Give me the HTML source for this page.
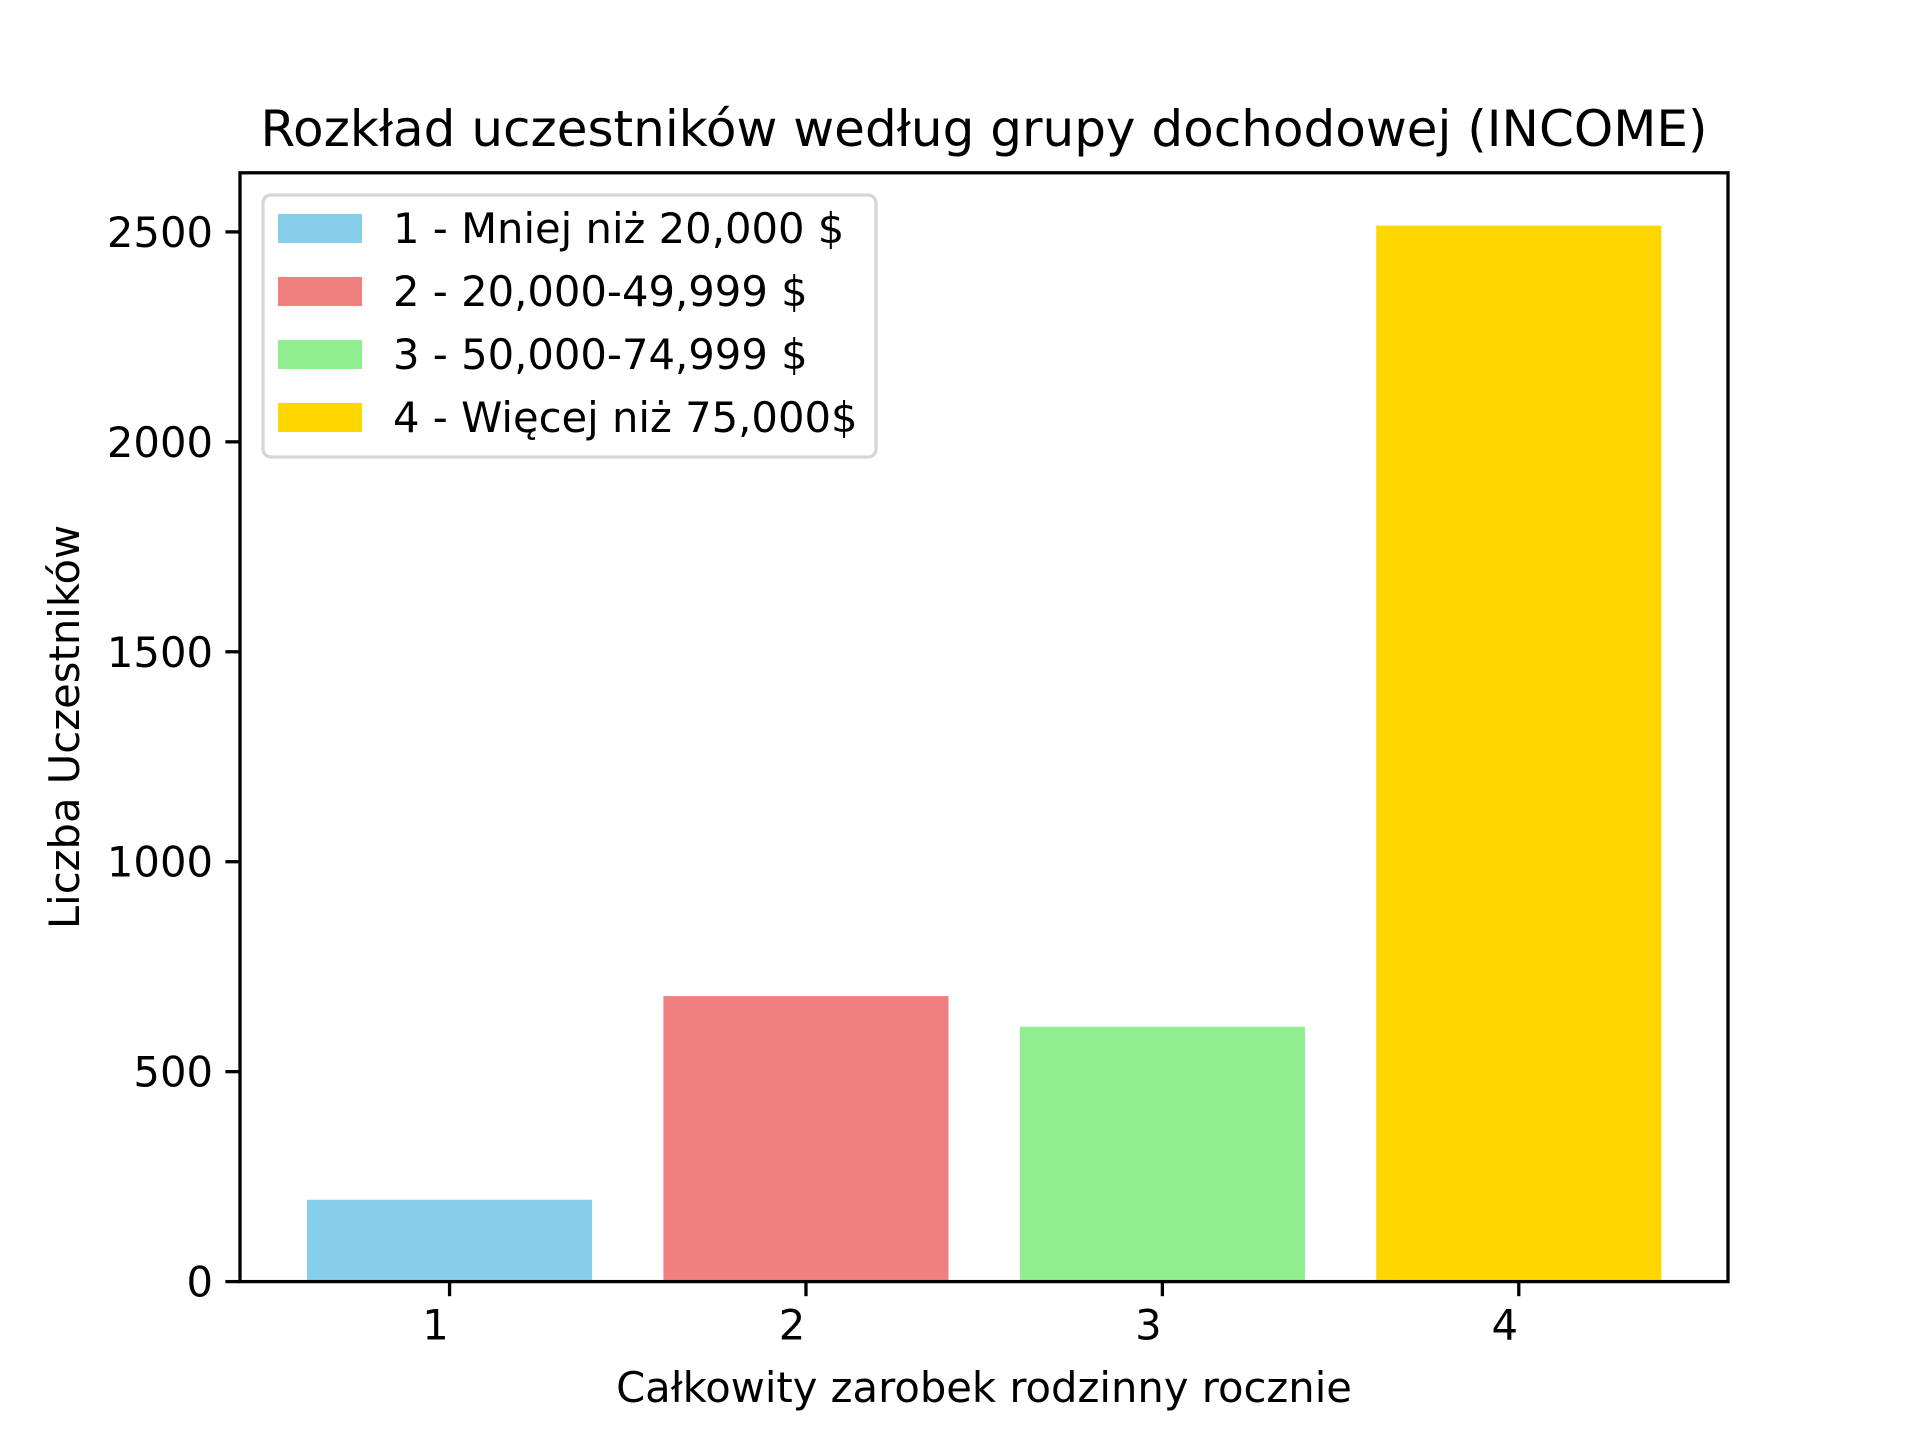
<!DOCTYPE html>
<html><head><meta charset="utf-8"><style>
body{margin:0;background:#fff}
svg text{font-family:"DejaVu Sans","Liberation Sans",sans-serif;fill:#000}
</style></head><body>
<svg id="chart" width="1920" height="1440" xmlns="http://www.w3.org/2000/svg">
<rect width="1920" height="1440" fill="#fff"/>
<text x="984" y="146" font-size="50" text-anchor="middle">Rozkład uczestników według grupy dochodowej (INCOME)</text>
<g id="bars"></g>
<g id="axes"></g>
<text x="984" y="1402" font-size="41.7" text-anchor="middle">Całkowity zarobek rodzinny rocznie</text>
<text transform="translate(79,727) rotate(-90)" font-size="41.7" text-anchor="middle">Liczba Uczestników</text>
<g id="legend"></g>
</svg>
<script>
const categories = [1, 2, 3, 4];
const values = [195, 680, 607, 2515];
const colors = ['#87ceeb', '#f08080', '#90ee90', '#ffd700'];
const labels = ['1 - Mniej niż 20,000 $', '2 - 20,000-49,999 $', '3 - 50,000-74,999 $', '4 - Więcej niż 75,000$'];
const yTicks = [0, 500, 1000, 1500, 2000, 2500];

const NS = 'http://www.w3.org/2000/svg';
const L = 240, R = 1728, T = 172.8, B = 1281.6;
const yMax = Math.max(...values) * 1.05;
const xMin = 0.412, xMax = 4.587;
const xs = v => L + (v - xMin) / (xMax - xMin) * (R - L);
const ys = v => B - v / yMax * (B - T);
function mk(tag, attrs, parent) {
  const e = document.createElementNS(NS, tag);
  for (const k in attrs) e.setAttribute(k, attrs[k]);
  parent.appendChild(e);
  return e;
}
const barsG = document.getElementById('bars');
categories.forEach((c, i) => {
  const r = mk('rect', {x: xs(c - 0.4), y: ys(values[i]), width: xs(c + 0.4) - xs(c - 0.4), height: B - ys(values[i]), fill: colors[i]}, barsG);
  
  
});
const ax = document.getElementById('axes');
const frame = mk('rect', {x: L, y: T, width: R - L, height: B - T, fill: 'none', stroke: '#000', 'stroke-width': 3.3}, ax);


yTicks.forEach(t => {
  const y = ys(t);
  const tk = mk('line', {x1: L - 14.6, x2: L, y1: y, y2: y, stroke: '#000', 'stroke-width': 3.3}, ax);
  
  
  const tx = mk('text', {x: L - 27, y: y + 15, 'font-size': 41.7, 'text-anchor': 'end'}, ax);
  tx.textContent = t;
  
  
});
categories.forEach(c => {
  const x = xs(c);
  const tk = mk('line', {x1: x, x2: x, y1: B, y2: B + 14.6, stroke: '#000', 'stroke-width': 3.3}, ax);
  
  
  const tx = mk('text', {x: x - 14, y: B + 58, 'font-size': 41.7, 'text-anchor': 'middle'}, ax);
  tx.textContent = c;
  
  
});
const lg = document.getElementById('legend');
const box = mk('rect', {x: 263, y: 195, width: 613, height: 262, rx: 8, fill: '#fff', 'fill-opacity': 0.8, stroke: '#d5d5d5', 'stroke-width': 3.3}, lg);


labels.forEach((lab, i) => {
  const y0 = 214 + i * 63;
  const sw = mk('rect', {x: 278, y: y0, width: 84, height: 29, fill: colors[i]}, lg);
  
  
  const tx = mk('text', {x: 393, y: y0 + 29, 'font-size': 41.7}, lg);
  tx.textContent = lab;
  
  
});
</script>
</body></html>
